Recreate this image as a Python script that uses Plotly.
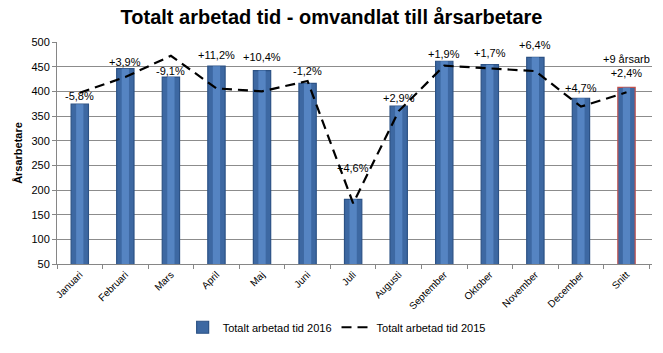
import plotly.graph_objects as go

months = ["Januari", "Februari", "Mars", "April", "Maj", "Juni", "Juli", "Augusti",
          "September", "Oktober", "November", "December", "Snitt"]
tid_2016 = [374, 446, 429, 451, 442, 416, 181, 370, 461, 454, 469, 386, 408]
tid_2015 = [397, 429, 472, 406, 400, 421, 173, 360, 452, 446, 441, 369, 398]
change_labels = ["-5,8%", "+3,9%", "-9,1%", "+11,2%", "+10,4%", "-1,2%", "+4,6%", "+2,9%",
                 "+1,9%", "+1,7%", "+6,4%", "+4,7%", "+9 årsarb<br>+2,4%"]
y_ticks = [50, 100, 150, 200, 250, 300, 350, 400, 450, 500]

# label placement offsets (style, not data)
label_offsets = [17, 13, 12, 23, 28, 26, 64, 16, 15, 24, 24, 20, 44]

FONT = "Liberation Sans Narrow, Liberation Sans, Arial, sans-serif"

edge_cols = ["#2C5285"] * (len(months) - 1) + ["#C0504D"]

fig = go.Figure()
fig.add_trace(go.Bar(
    x=months, y=tid_2016, width=0.38, name="Totalt arbetad tid 2016",
    marker=dict(color="#3D68A2", line=dict(color=edge_cols, width=1.2)),
))
fig.add_trace(go.Bar(
    x=months, y=tid_2016, width=0.16, showlegend=False, hoverinfo="skip",
    marker=dict(color="#5584C2", line=dict(width=0)),
))
fig.add_trace(go.Scatter(
    x=months, y=tid_2015, mode="lines", name="Totalt arbetad tid 2015",
    line=dict(color="black", width=2.2, dash="10px,6px"),
))

for m, v, lab, off in zip(months, tid_2016, change_labels, label_offsets):
    fig.add_annotation(x=m, y=v + off, text=lab, showarrow=False,
                       font=dict(family=FONT, size=11, color="black"),
                       xanchor="center", yanchor="middle")

fig.update_layout(
    width=663, height=353,
    margin=dict(l=57, r=11, t=42, b=87),
    paper_bgcolor="white", plot_bgcolor="white",
    barmode="overlay",
    title=dict(text="<b>Totalt arbetad tid - omvandlat till årsarbetare</b>",
               x=0.5, xanchor="center", y=0.952, yanchor="middle",
               font=dict(family="Liberation Sans, Arial, sans-serif", size=20, color="black")),
    font=dict(family=FONT, size=11, color="black"),
    showlegend=True,
    legend=dict(orientation="h", x=0.47, xanchor="center", y=-0.285, yanchor="middle",
                font=dict(family=FONT, size=11), traceorder="normal",
                itemwidth=30),
    xaxis=dict(tickangle=-45, showline=True, linecolor="#868686", ticks="outside",
               tickcolor="#868686", ticklen=4, tickson="boundaries",
               tickfont=dict(family=FONT, size=10), showgrid=False),
    yaxis=dict(range=[50, 500], tickvals=y_ticks, showgrid=True, gridcolor="#8C8C8C",
               gridwidth=1, showline=True, linecolor="#868686", ticks="outside",
               tickcolor="#868686", ticklen=4, tickfont=dict(family=FONT, size=11),
               title=dict(text="<b>Årsarbetare</b>", font=dict(family=FONT, size=11), standoff=6),
               zeroline=False),
)

fig.write_html("out.html")
